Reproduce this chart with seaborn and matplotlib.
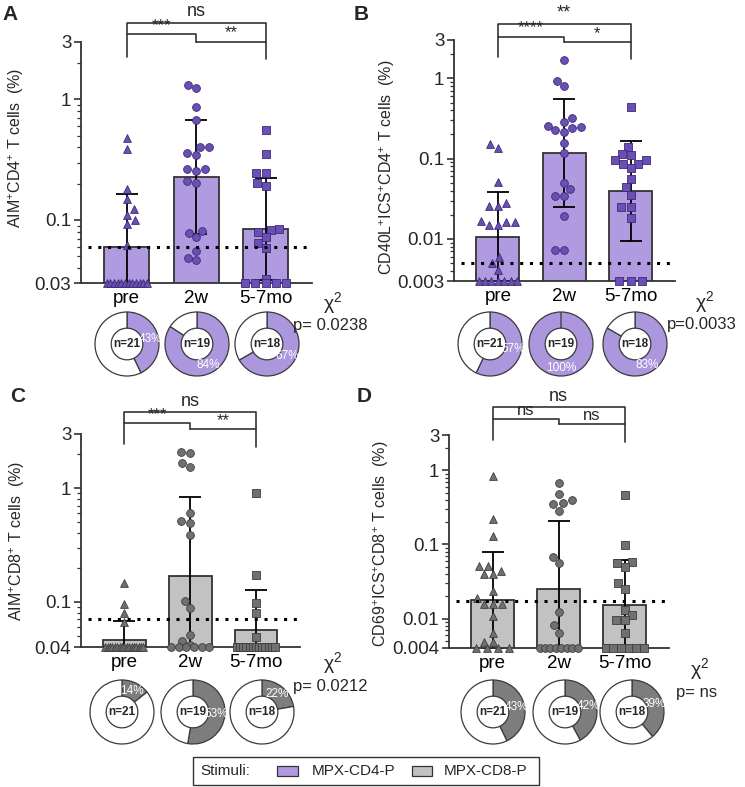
import warnings
import numpy as np
import matplotlib
matplotlib.use('Agg')
import matplotlib.pyplot as plt
from matplotlib.patches import Rectangle
from matplotlib.ticker import LogLocator, NullFormatter, FixedLocator, FixedFormatter
import seaborn as sns

warnings.filterwarnings('ignore')

W, H = 745, 787

groups = ['pre', '2w', '5-7mo']
n_donors = [21, 19, 18]
markers = ['^', 'o', 's']

# Panel A: AIM+CD4+ (MPX-CD4-P)
a_pre = [0.476, 0.388, 0.18, 0.148, 0.123, 0.111, 0.10, 0.093, 0.062] + [0.03] * 12
a_2w = [1.32, 1.24, 0.87, 0.68, 0.40, 0.40, 0.357, 0.346, 0.265, 0.265, 0.255,
        0.21, 0.204, 0.081, 0.0785, 0.0718, 0.0553, 0.0486, 0.0462]
a_mo = [0.558, 0.353, 0.244, 0.244, 0.204, 0.191, 0.084, 0.0826, 0.079, 0.072,
        0.064, 0.059, 0.0324] + [0.03] * 5
a_mean = [0.060, 0.229, 0.084]
a_upper = [0.165, 0.68, 0.222]
a_lod = 0.06
a_pos = [9, 16, 12]

# Panel B: CD40L+ICS+CD4+
b_pre = [0.151, 0.134, 0.0516, 0.0277, 0.0257, 0.0257, 0.0169, 0.0161, 0.0161,
         0.0149, 0.0149, 0.0059, 0.0050, 0.0041] + [0.003] * 7
b_2w = [1.69, 0.93, 0.81, 0.318, 0.283, 0.227, 0.238, 0.245, 0.255, 0.212, 0.158,
        0.119, 0.050, 0.0414, 0.0342, 0.0342, 0.0193, 0.0074, 0.0074]
b_mo = [0.444, 0.141, 0.114, 0.111, 0.096, 0.096, 0.087, 0.085, 0.0757, 0.0557,
        0.0439, 0.0352, 0.0247, 0.0247, 0.018] + [0.003] * 3
b_mean = [0.0107, 0.117, 0.0398]
b_upper = [0.0387, 0.552, 0.167]
b_lod = 0.005
b_pos = [12, 19, 15]

# Panel C: AIM+CD8+ (MPX-CD8-P)
c_pre = [0.147, 0.096, 0.080, 0.066] + [0.04] * 17
c_2w = [2.09, 2.05, 1.65, 1.55, 0.607, 0.513, 0.489, 0.386, 0.101, 0.088,
        0.0507, 0.045, 0.042] + [0.04] * 6
c_mo = [0.90, 0.171, 0.098, 0.080, 0.049] + [0.04] * 13
c_mean = [0.0464, 0.168, 0.057]
c_upper = [0.068, 0.83, 0.126]
c_lod = 0.07
c_pos = [3, 10, 4]

# Panel D: CD69+ICS+CD8+
d_pre = [0.838, 0.218, 0.129, 0.0514, 0.0514, 0.0405, 0.0405, 0.044, 0.0236,
         0.019, 0.0159, 0.0159, 0.0159, 0.0109, 0.00646, 0.00479, 0.00479] + [0.004] * 4
d_2w = [0.667, 0.479, 0.397, 0.358, 0.35, 0.285, 0.068, 0.0553, 0.0123, 0.0081,
        0.00646] + [0.004] * 8
d_mo = [0.463, 0.098, 0.058, 0.0565, 0.050, 0.0303, 0.0254, 0.0129, 0.0111,
        0.0095, 0.0095, 0.0064] + [0.004] * 6
d_mean = [0.0177, 0.0254, 0.0151]
d_upper = [0.080, 0.208, 0.061]
d_lod = 0.0171
d_pos = [9, 8, 7]

PURPLE_BAR = '#b09be0'
PURPLE_DOT = '#6c4fb6'
PURPLE_EDGE = '#3a2a72'
PURPLE_RING = '#ac96de'
GRAY_BAR = '#c2c2c2'
GRAY_DOT = '#707070'
GRAY_EDGE = '#3d3d3d'
GRAY_RING = '#7d7d7d'
LINE = '#333333'

sns.set_style('ticks')
plt.rcParams['font.family'] = ['Liberation Sans', 'DejaVu Sans']
plt.rcParams['mathtext.fontset'] = 'custom'
plt.rcParams['mathtext.rm'] = 'Liberation Sans'
plt.rcParams['mathtext.it'] = 'Liberation Sans:italic'
plt.rcParams['mathtext.bf'] = 'Liberation Sans:bold'


def px_axes(fig, x0, y0, x1, y1):
    return fig.add_axes([x0 / W, 1 - y1 / H, (x1 - x0) / W, (y1 - y0) / H])


def fig_text(fig, x, y, s, **kw):
    fig.text(x / W, 1 - y / H, s, **kw)


def draw_panel(fig, box, data, mean, upper, lod, ylim, yticks, ylabel, label_xy,
               bar_color, dot_color, edge_color, sig, sig_levels):
    ax = px_axes(fig, *box)
    sns.barplot(x=groups, y=mean, order=groups, color=bar_color, saturation=1,
                edgecolor=LINE, linewidth=1.3, width=0.65, errorbar=None,
                ax=ax, zorder=1)
    ax.set_yscale('log')
    ax.set_ylim(*ylim)

    # geometric SD error bars
    mean_a = np.array(mean)
    up_a = np.array(upper)
    lo_a = mean_a ** 2 / up_a
    ax.errorbar(np.arange(3), mean_a, yerr=[mean_a - lo_a, up_a - mean_a], fmt='none',
                ecolor='black', elinewidth=1.3, capsize=8, capthick=1.3, zorder=2)

    floor = ylim[0]
    for i, (vals, m) in enumerate(zip(data, markers)):
        vals = np.array(vals)
        above = vals[vals > floor * 1.001]
        at_floor = vals[vals <= floor * 1.001]
        sns.swarmplot(x=[groups[i]] * len(above), y=above, order=groups, marker=m,
                      color=dot_color, edgecolor=edge_color, linewidth=0.6, size=5.6,
                      ax=ax, zorder=3)
        k = len(at_floor)
        if k:
            step = min(0.17, 0.58 / max(k - 1, 1))
            offs = (np.arange(k) - (k - 1) / 2) * step
            sc = ax.scatter(i + offs, at_floor, marker=m, s=5.6 ** 2, c=dot_color,
                            edgecolors=edge_color, linewidths=0.6, zorder=3)
            sc.set_clip_on(False)

    ax.axhline(lod, xmin=0.03, color='black', linestyle=(0, (1, 2.2)), linewidth=2.2, zorder=4)

    ax.set_xlim(-0.66, 2.67)
    ax.set_ylim(*ylim)
    ax.yaxis.set_major_locator(FixedLocator(yticks))
    ax.yaxis.set_major_formatter(FixedFormatter([f'{t:g}' for t in yticks]))
    ax.yaxis.set_minor_locator(LogLocator(base=10, subs=np.arange(2, 10) * 1.0, numticks=30))
    ax.yaxis.set_minor_formatter(NullFormatter())
    ax.set_xticks(range(3))
    ax.set_xticklabels(groups)
    ax.tick_params(axis='x', length=0, pad=5, labelsize=13.5, colors='black')
    ax.tick_params(axis='y', which='major', length=5, width=1.2, color=LINE,
                   labelsize=13.5, pad=2)
    ax.tick_params(axis='y', which='minor', length=3, width=0.9, color=LINE)
    for s in ['top', 'right']:
        ax.spines[s].set_visible(False)
    for s in ['left', 'bottom']:
        ax.spines[s].set_color(LINE)
        ax.spines[s].set_linewidth(1.3)
    ax.set_xlabel('')
    ax.set_ylabel(ylabel, fontsize=11.5)
    ax.yaxis.set_label_coords(*label_xy)

    # significance brackets (levels in axes fraction)
    top, mid1, mid2, leg_l, leg_r = sig_levels
    tr = ax.get_xaxis_transform()
    kw = dict(color=LINE, lw=1.2, transform=tr, clip_on=False)
    ax.plot([0, 0, 2, 2], [leg_l, top, top, leg_r], **kw)
    ax.plot([0, 1, 1], [mid1, mid1, mid2], **kw)
    ax.plot([1, 2], [mid2, mid2], **kw)
    ax.text(0.5, mid1 + 0.005, sig[0], transform=tr, ha='center', va='bottom', fontsize=12)
    ax.text(1.5, mid2 + 0.005, sig[1], transform=tr, ha='center', va='bottom', fontsize=12)
    ax.text(1.0, top + 0.01, sig[2], transform=tr, ha='center', va='bottom', fontsize=13)
    return ax


def draw_donuts(fig, centers, cy, positives, ring_color):
    r = 33
    for cx, pos, n in zip(centers, positives, n_donors):
        pax = px_axes(fig, cx - r, cy - r, cx + r, cy + r)
        pct = 100 * pos / n
        pax.pie([pos, n - pos], colors=[ring_color, 'white'], startangle=90,
                counterclock=False, radius=0.97,
                wedgeprops=dict(width=0.49, edgecolor='#3a3a3a', linewidth=0.9),
                autopct=lambda p, t=pct: f'{p:.0f}%' if abs(p - t) < 0.01 else '',
                pctdistance=0.74, textprops=dict(color='white', fontsize=8.5))
        pax.text(0, 0, f'n={n}', ha='center', va='center', fontsize=8.5,
                 fontweight='bold')
        pax.set_xlim(-1, 1)
        pax.set_ylim(-1, 1)


fig = plt.figure(figsize=(W / 100, H / 100), dpi=100)

draw_panel(fig, (81, 42, 312, 283), [a_pre, a_2w, a_mo], a_mean, a_upper, a_lod,
           (0.03, 3), [0.03, 0.1, 1, 3], 'AIM$^{+}$CD4$^{+}$ T cells  (%)', (-0.24, 0.56),
           PURPLE_BAR, PURPLE_DOT, PURPLE_EDGE, ['***', '**', 'ns'],
           (1.080, 1.032, 1.001, 0.939, 0.929))
draw_panel(fig, (454, 40, 675, 281), [b_pre, b_2w, b_mo], b_mean, b_upper, b_lod,
           (0.003, 3), [0.003, 0.01, 0.1, 1, 3],
           'CD40L$^{+}$ICS$^{+}$CD4$^{+}$ T cells  (%)', (-0.26, 0.47),
           PURPLE_BAR, PURPLE_DOT, PURPLE_EDGE, ['****', '*', '**'],
           (1.066, 1.014, 0.991, 0.929, 0.921))
draw_panel(fig, (81, 434, 300, 647), [c_pre, c_2w, c_mo], c_mean, c_upper, c_lod,
           (0.04, 3), [0.04, 0.1, 1, 3], 'AIM$^{+}$CD8$^{+}$ T cells  (%)', (-0.245, 0.50),
           GRAY_BAR, GRAY_DOT, GRAY_EDGE, ['***', '**', 'ns'],
           (1.105, 1.050, 1.022, 0.953, 0.940))
draw_panel(fig, (449, 435, 669, 648), [d_pre, d_2w, d_mo], d_mean, d_upper, d_lod,
           (0.004, 3), [0.004, 0.01, 0.1, 1, 3],
           'CD69$^{+}$ICS$^{+}$CD8$^{+}$ T cells  (%)', (-0.265, 0.49),
           GRAY_BAR, GRAY_DOT, GRAY_EDGE, ['ns', 'ns', 'ns'],
           (1.133, 1.074, 1.050, 0.976, 0.968))

draw_donuts(fig, [127, 197, 267], 344, a_pos, PURPLE_RING)
draw_donuts(fig, [490, 561, 635], 344, b_pos, PURPLE_RING)
draw_donuts(fig, [122, 193, 262], 712, c_pos, GRAY_RING)
draw_donuts(fig, [493, 565, 632], 712, d_pos, GRAY_RING)

# chi-square annotations
for x, y, p in [(333, 303, 'p= 0.0238'), (705, 302, 'p=0.0033'),
                (333, 663, 'p= 0.0212'), (700, 669, 'p= ns')]:
    fig_text(fig, x, y, 'χ$^{2}$', ha='center', va='center', fontsize=14)
    fig_text(fig, x - 3, y + 23, p, ha='center', va='center', fontsize=12)

# panel letters
for x, y, s in [(10, 14, 'A'), (361, 14, 'B'), (18, 397, 'C'), (364, 397, 'D')]:
    fig_text(fig, x, y, s, ha='center', va='center', fontsize=15, fontweight='bold')

# legend
fig.patches.append(Rectangle((193 / W, 1 - 785 / H), 346 / W, 28 / H, transform=fig.transFigure,
                             fill=False, edgecolor=LINE, linewidth=1))
fig_text(fig, 200, 771, 'Stimuli:', ha='left', va='center', fontsize=11)
fig.patches.append(Rectangle((277 / W, 1 - 776 / H), 21 / W, 10 / H, transform=fig.transFigure,
                             facecolor=PURPLE_BAR, edgecolor=LINE, linewidth=0.9))
fig_text(fig, 312, 771, 'MPX-CD4-P', ha='left', va='center', fontsize=11)
fig.patches.append(Rectangle((412 / W, 1 - 776 / H), 20 / W, 10 / H, transform=fig.transFigure,
                             facecolor=GRAY_BAR, edgecolor=LINE, linewidth=0.9))
fig_text(fig, 444, 771, 'MPX-CD8-P', ha='left', va='center', fontsize=11)

fig.savefig('out.png', dpi=100)
